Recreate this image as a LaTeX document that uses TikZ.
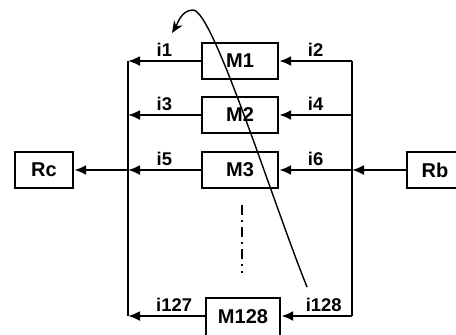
\documentclass[tikz,border=0pt]{standalone}
\usepackage{fontspec}
\setmainfont{Liberation Sans}
\usetikzlibrary{arrows.meta,positioning}

\begin{document}
\begin{tikzpicture}[>={Latex[length=6pt,width=5pt]}, x=0.5pt, y=-0.5pt,
  blk/.style={draw, line width=1.2pt, minimum width=38pt, minimum height=18pt, inner sep=0pt, font=\fontsize{10}{12}\selectfont\bfseries},
  wire/.style={line width=1.1pt},
  lbl/.style={above, inner sep=1.5pt, font=\fontsize{9.2}{11}\selectfont\bfseries}]
  \useasboundingbox (0,0) rectangle (456,334);
  % modules
  \node[blk] (M1) at (240,61) {M1};
  \node[blk] (M2) at (240,115) {M2};
  \node[blk] (M3) at (240,170) {M3};
  \node[blk, minimum width=37pt, minimum height=19pt] (M128) at (243,317) {M128};
  \node[blk, minimum width=29pt] (Rc) at (44,170) {Rc};
  \node[blk, minimum width=28pt] (Rb) at (435,170) {Rb};
  % bus taps
  \coordinate (L1) at (128,61);   \coordinate (R1) at (352,61);
  \coordinate (L2) at (128,115);  \coordinate (R2) at (352,115);
  \coordinate (L3) at (128,170);  \coordinate (R3) at (352,170);
  \coordinate (L128) at (128,316); \coordinate (R128) at (352,316);
  \draw[wire] (L1) -- (L128);
  \draw[wire] (R1) -- (R128);
  \draw[wire, ->] (M1.west) -- (L1) node[lbl, midway] {i1};
  \draw[wire, ->] (R1) -- (M1.east) node[lbl, midway] {i2};
  \draw[wire, ->] (M2.west) -- (L2) node[lbl, midway] {i3};
  \draw[wire, ->] (R2) -- (M2.east) node[lbl, midway] {i4};
  \draw[wire, ->] (M3.west) -- (L3) node[lbl, midway] {i5};
  \draw[wire, ->] (R3) -- (M3.east) node[lbl, midway] {i6};
  \draw[wire, ->] (M128.west |- L128) -- (L128) node[lbl, pos=0.4] {i127};
  \draw[wire, ->] (R128) -- (M128.east |- R128) node[lbl, pos=0.4] {i128};
  \draw[wire, ->] (Rb.west) -- (R3);
  \draw[wire, ->] (L3) -- (Rc.east);
  % omitted modules
  \coordinate (D1) at (242,205);
  \coordinate (D2) at (242,273);
  \draw[line width=1.1pt, dash pattern=on 5pt off 2.5pt on 1pt off 2.5pt] (D1) -- (D2);
  % sweep
  \coordinate (S0) at (307,287);
  \coordinate (S1) at (193,10);
  \coordinate (S2) at (172,33);
  \draw[line width=0.7pt, -{Stealth[length=6pt,width=5pt]}] (S0) .. controls (272,200) and (213,10) .. (S1)
    .. controls (181,10) and (177,25) .. (S2);
\end{tikzpicture}
\end{document}
